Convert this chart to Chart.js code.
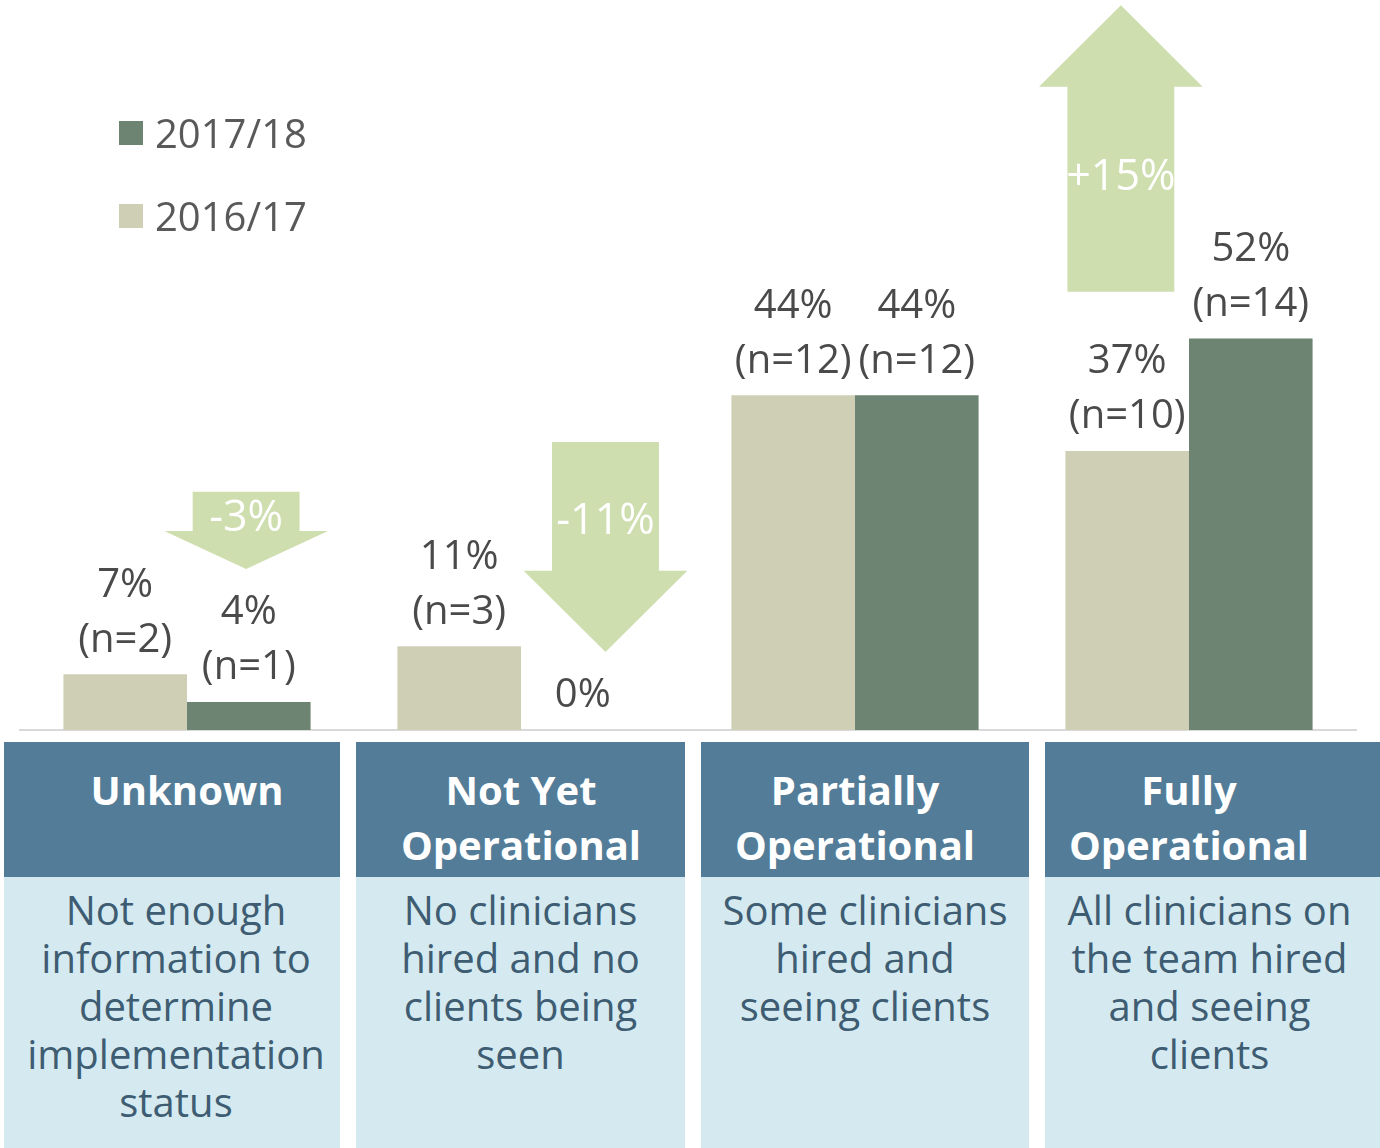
<!DOCTYPE html>
<html>
<head>
<meta charset="utf-8">
<script src="https://cdn.jsdelivr.net/npm/chart.js@4.4.0/dist/chart.umd.min.js"></script>
<style>
  html, body { margin: 0; padding: 0; background: #fff; }
  body { width: 1380px; height: 1148px; position: relative; overflow: hidden; font-family: "Open Sans", sans-serif; }
  #chartBox { position: absolute; left: 0; top: 0; width: 1380px; height: 740px; }
  .legend-item { position: absolute; left: 119px; height: 40px; display: flex; align-items: center; color: #595959; font-size: 40px; line-height: 40px; }
  .legend-item span.sw { width: 24px; height: 24px; margin-right: 12px; display: inline-block; }
  #table { position: absolute; top: 742px; left: 4px; display: flex; gap: 16px; }
  .col { display: flex; flex-direction: column; }
  .head { position: relative; height: 135px; background: #527c98; }
  .head .txt { position: absolute; top: 20px; white-space: nowrap; transform: translateX(-50%); color: #fff; font-weight: 700; font-size: 40px; line-height: 55px; text-align: center; }
  .body { height: 271px; background: #d4eaf0; color: #3e5c72; font-size: 40px; line-height: 48px; text-align: center; padding-top: 9px; box-sizing: border-box; }
</style>
</head>
<body>
<div id="chartBox"><canvas id="statusChart" width="1380" height="740"></canvas></div>
<div id="legend"></div>
<div id="table"></div>
<script>
// categories and status descriptions
const headers = [["Unknown"], ["Not Yet", "Operational"], ["Partially", "Operational"], ["Fully", "Operational"]];
const descriptions = [
  ["Not enough", "information to", "determine", "implementation", "status"],
  ["No clinicians", "hired and no", "clients being", "seen"],
  ["Some clinicians", "hired and", "seeing clients"],
  ["All clinicians on", "the team hired", "and seeing", "clients"],
];

// share of teams (%) and counts
const share1617 = [7.4, 11.1, 44.4, 37.0];
const share1718 = [3.7, 0, 44.4, 51.9];
const count1617 = [2, 3, 12, 10];
const count1718 = [1, 0, 12, 14];

const changeLabels = ["-3%", "-11%", "+15%"];

const colLight = "#cfcfb5";
const colDark = "#6e8473";
const arrowColor = "#cedeae";

// arrows: x in category units, y in % units
const arrows = [
  { x: 0.177, shaftEnd: 31.6, headBase: 26.4, tip: 21.35, textY: 28.0, label: changeLabels[0] },
  { x: 1.253, shaftEnd: 38.2, headBase: 21.1, tip: 10.34, textY: 27.6, label: changeLabels[1] },
  { x: 2.796, shaftEnd: 58.1, headBase: 85.3, tip: 96.1, textY: 73.2, label: changeLabels[2] },
];
const shaftW = 0.32;
const headW = 0.49;

const labelLines = (shares, counts) =>
  shares.map((v, i) => (counts[i] > 0 ? [Math.round(v) + "%", "(n=" + counts[i] + ")"] : [Math.round(v) + "%"]));

const barLabels = [labelLines(share1617, count1617), labelLines(share1718, count1718)];

const arrowPlugin = {
  id: "arrows",
  afterDraw(chart) {
    const ctx = chart.ctx;
    const xs = chart.scales.x;
    const ys = chart.scales.y;
    const unit = xs.getPixelForValue(1) - xs.getPixelForValue(0);
    ctx.save();
    arrows.forEach((a) => {
      const cx = xs.getPixelForValue(a.x);
      const sw = (shaftW * unit) / 2;
      const hw = (headW * unit) / 2;
      const y0 = ys.getPixelForValue(a.shaftEnd);
      const y1 = ys.getPixelForValue(a.headBase);
      const y2 = ys.getPixelForValue(a.tip);
      ctx.fillStyle = arrowColor;
      ctx.beginPath();
      ctx.moveTo(cx - sw, y0);
      ctx.lineTo(cx + sw, y0);
      ctx.lineTo(cx + sw, y1);
      ctx.lineTo(cx + hw, y1);
      ctx.lineTo(cx, y2);
      ctx.lineTo(cx - hw, y1);
      ctx.lineTo(cx - sw, y1);
      ctx.closePath();
      ctx.fill();
      ctx.fillStyle = "#ffffff";
      ctx.font = "43px 'Open Sans'";
      ctx.textAlign = "center";
      ctx.textBaseline = "middle";
      ctx.fillText(a.label, cx, ys.getPixelForValue(a.textY));
    });
    ctx.restore();
  },
};

const valueLabelPlugin = {
  id: "valueLabels",
  afterDatasetsDraw(chart) {
    const ctx = chart.ctx;
    ctx.save();
    ctx.font = "40px 'Open Sans'";
    ctx.fillStyle = "#4a4a4a";
    ctx.textAlign = "center";
    ctx.textBaseline = "middle";
    chart.data.datasets.forEach((ds, d) => {
      chart.getDatasetMeta(d).data.forEach((bar, i) => {
        const lines = barLabels[d][i];
        lines.forEach((t, k) => {
          const y = bar.y - 34 - (lines.length - 1 - k) * 55;
          ctx.fillText(t, bar.x, y);
        });
      });
    });
    ctx.restore();
  },
};

const ctx = document.getElementById("statusChart").getContext("2d");
const chart = new Chart(ctx, {
  type: "bar",
  data: {
    labels: headers.map((h) => h.join(" ")),
    datasets: [
      { label: "2016/17", data: share1617, backgroundColor: colLight, borderWidth: 0 },
      { label: "2017/18", data: share1718, backgroundColor: colDark, borderWidth: 0 },
    ],
  },
  options: {
    responsive: false,
    animation: false,
    events: [],
    layout: { padding: { left: 20, right: 24, top: 6, bottom: 10 } },
    datasets: { bar: { categoryPercentage: 0.74, barPercentage: 1 } },
    scales: {
      x: {
        grid: { display: false, drawTicks: false },
        ticks: { display: false },
        border: { display: true, color: "#d9d9d9", width: 2 },
      },
      y: { display: false, min: 0, max: 96 },
    },
    plugins: { legend: { display: false }, tooltip: { enabled: false } },
  },
  plugins: [valueLabelPlugin, arrowPlugin],
});

// legend, newest season first
const legendBox = document.getElementById("legend");
chart.data.datasets.slice().reverse().forEach((ds, i) => {
  const item = document.createElement("div");
  item.className = "legend-item";
  item.style.top = 113 + i * 83 + "px";
  item.innerHTML = '<span class="sw" style="background:' + ds.backgroundColor + '"></span>' + ds.label;
  legendBox.appendChild(item);
});

// status table under the bars
const colWidths = [336, 329, 328, 335];
const bodyShift = [4, 0, 0, -3];
const table = document.getElementById("table");
let left = 4;
headers.forEach((h, i) => {
  const col = document.createElement("div");
  col.className = "col";
  col.style.width = colWidths[i] + "px";
  const head = document.createElement("div");
  head.className = "head";
  const txt = document.createElement("div");
  txt.className = "txt";
  txt.innerHTML = h.join("<br>");
  txt.style.left = chart.scales.x.getPixelForValue(i) - left + "px";
  head.appendChild(txt);
  const body = document.createElement("div");
  body.className = "body";
  body.style.paddingLeft = Math.max(0, bodyShift[i]) * 2 + "px";
  body.style.paddingRight = Math.max(0, -bodyShift[i]) * 2 + "px";
  body.innerHTML = descriptions[i].join("<br>");
  col.appendChild(head);
  col.appendChild(body);
  table.appendChild(col);
  left += colWidths[i] + 16;
});
</script>
</body>
</html>
